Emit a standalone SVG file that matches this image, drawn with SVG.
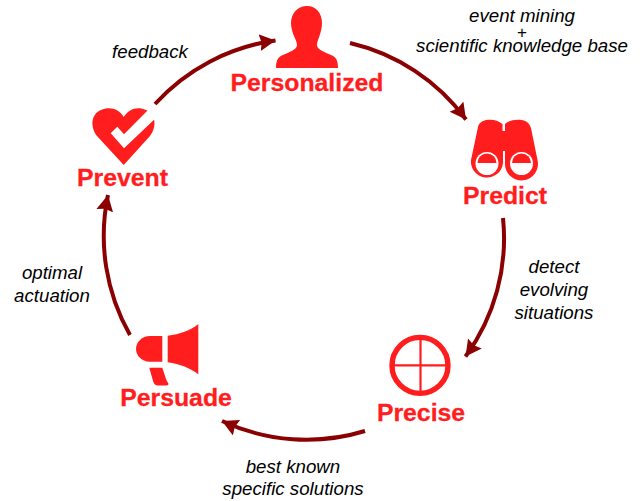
<svg xmlns="http://www.w3.org/2000/svg" width="642" height="501" viewBox="0 0 642 501">
<style>
.n{font:bold 24.8px "Liberation Sans",Arial,sans-serif;fill:#ff1d1d;stroke:#ff1d1d;stroke-width:.3;text-anchor:middle}
.l{font:italic 18.7px "Liberation Sans",Arial,sans-serif;fill:#000;text-anchor:middle}
.i{fill:#ff1d1d}
.c{fill:none;stroke:#8b0000;stroke-width:4;marker-end:url(#a)}
</style>
<defs><marker id="a" markerUnits="userSpaceOnUse" markerWidth="18" markerHeight="18" refX="16" refY="8.5" orient="auto"><path d="M0 0L16 8.5L0 17L2 8.5Z" fill="#8b0000"/></marker></defs>
<rect width="642" height="501" fill="#fff"/>
<g id="personalized"><path class="i" d="M307 6C316 6 322 13 322 23C322 33 317 40 317 45C317 50 325 52 331 55C336 57 338 60 338 68H276C276 60 278 57 283 55C289 52 297 50 297 45C297 40 291 33 291 23C291 13 298 6 307 6Z"/><text class="n" x="307" y="91">Personalized</text></g>
<g id="predict"><path class="i" d="M486 120C492 119 498 120 502.5 124V131H505V124C509 120 516 119 522 120C527 121 529 123 531 128L537.5 160A16.5 16.5 0 1 1 505 163V151H503V163A16 16 0 1 1 471 160L478 127C479 123 482 121 486 120Z"/><circle cx="487" cy="163.5" r="11.5" fill="#fff"/><circle cx="521.5" cy="163.5" r="11.5" fill="#fff"/><path class="i" d="M477.5 163A9.5 9.5 0 0 1 496.5 163Z"/><path class="i" d="M512 163A9.5 9.5 0 0 1 531 163Z"/><text class="n" x="505" y="203.5">Predict</text></g>
<g id="precise"><circle cx="420" cy="365.4" r="28" fill="none" stroke="#ff1d1d" stroke-width="5.4"/><path d="M394 365.4H446M420.5 339V392" stroke="#ff1d1d" stroke-width="2.2"/><text class="n" x="421" y="420.7">Precise</text></g>
<g id="persuade"><path class="i" d="M162.3 336V361.7H150C141 361.7 136 355 136 349C136 342 142 336 150 336Z"/><path class="i" d="M167.7 335.7C180 334 190 331 198.3 324V374.3C190 368 180 364 167.7 362.3Z"/><path class="i" d="M149.3 367.7H162.3L166 379C167 382 168.5 383 168.5 384C168.5 385 167 385.5 165 385.5H158C155.5 385.5 154 384 153 381Z"/><text class="n" x="176" y="406">Persuade</text></g>
<g id="prevent"><path class="i" d="M123.7 165L97 136C90 127 91 114 101 110C110 106 119 109 123.7 117C129 109 137 106 146 110C156 114 157 127 150 136Z"/><path d="M110.7 133.3L117.3 126.7L124 134.3L150 108L158 116L124 148.3Z" fill="#fff"/><text class="n" x="122.5" y="185.7">Prevent</text></g>
<g id="connectors">
<path class="c" d="M350 43A200 200 0 0 1 466 119.5"/>
<path class="c" d="M503 218A200 200 0 0 1 465.5 356.5"/>
<path class="c" d="M365 431A200 200 0 0 1 222 421"/>
<path class="c" d="M130 335A200 200 0 0 1 108 195"/>
<path class="c" d="M155 104A200 200 0 0 1 275.5 40.5"/>
</g>
<g id="labels">
<text class="l" x="150" y="58">feedback</text>
<text class="l" x="522" y="21.5">event mining</text>
<text class="l" x="522" y="38" style="font-size:17px;font-style:normal">+</text>
<text class="l" x="522" y="51.5">scientific knowledge base</text>
<text class="l" x="554" y="273">detect</text>
<text class="l" x="554" y="296">evolving</text>
<text class="l" x="554" y="319">situations</text>
<text class="l" x="293" y="473">best known</text>
<text class="l" x="293" y="495">specific solutions</text>
<text class="l" x="52" y="279">optimal</text>
<text class="l" x="52" y="302">actuation</text>
</g>
</svg>
